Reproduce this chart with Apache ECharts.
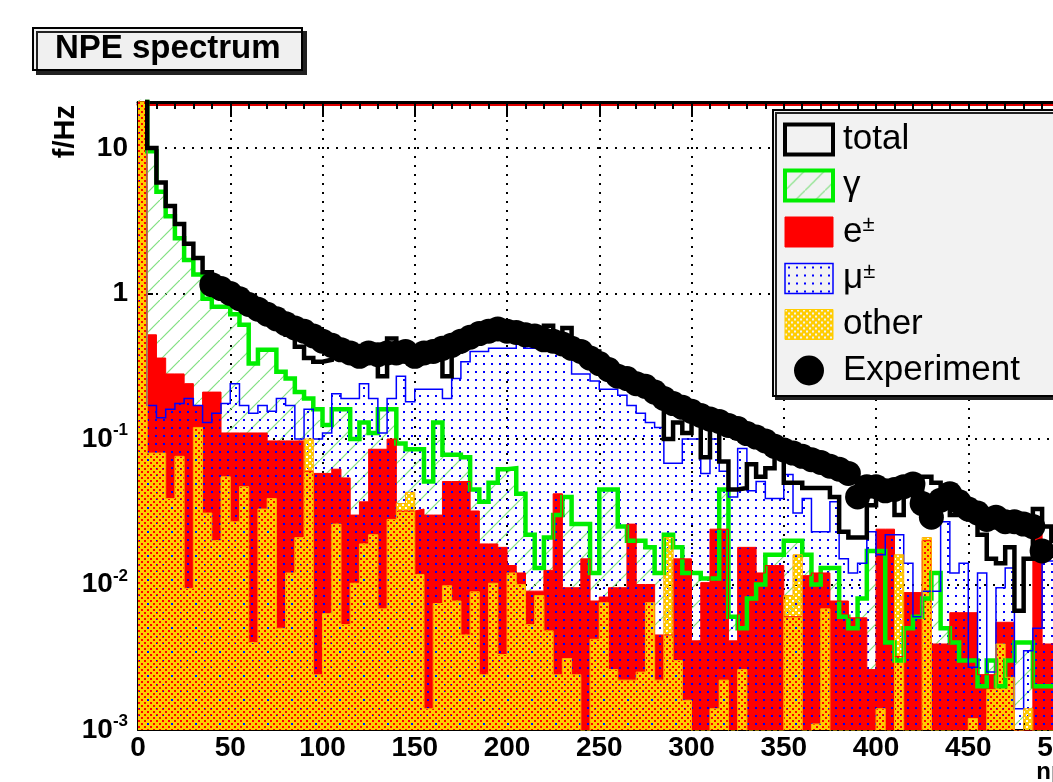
<!DOCTYPE html>
<html lang="en">
<head>
    <meta charset="UTF-8">
    <title>NPE spectrum</title>
    <style>
        html, body { margin: 0; padding: 0; background: #fff; }
        #main { width: 1053px; height: 782px; }
    </style>
    <script src="https://cdn.jsdelivr.net/npm/echarts@6/dist/echarts.min.js"></script>
</head>
<body>
<div id="main"></div>
<script type="text/javascript">
    // histogram bins: width 5 npe, starting at 0
    var binWidth = 5;
    // rates in Hz, one value per bin (0 = empty bin)
    var totalVals = [30, 10, 5.8, 4.0, 3.0, 2.2, 1.75, 1.4, 1.2, 1.0,
        0.95, 0.85, 0.75, 0.70, 0.62, 0.58, 0.52, 0.43, 0.36, 0.34,
        0.35, 0.38, 0.36, 0.42, 0.38, 0.40, 0.27, 0.49, 0.40, 0.38,
        0.37, 0.38, 0.35, 0.27, 0.40, 0.44, 0.48, 0.50, 0.55, 0.58,
        0.56, 0.55, 0.52, 0.50, 0.60, 0.47, 0.58, 0.45, 0.42, 0.40,
        0.34, 0.30, 0.28, 0.27, 0.25, 0.23, 0.22, 0.10, 0.13, 0.11,
        0.14, 0.075, 0.14, 0.07, 0.045, 0.046, 0.067, 0.055, 0.063, 0.09,
        0.05, 0.05, 0.046, 0.046, 0.046, 0.04, 0.023, 0.021, 0.021, 0.035,
        0.047, 0.040, 0.030, 0.050, 0.035, 0.055, 0.050, 0.040, 0.030, 0.032,
        0.028, 0.022, 0.015, 0.014, 0.018, 0.0066, 0.015, 0.033, 0.025, 0.02,
        0.022, 0.02];
    var gammaVals = [30, 9.5, 5.0, 3.4, 2.4, 1.7, 1.35, 0.92, 0.81, 0.81,
        0.72, 0.61, 0.33, 0.41, 0.41, 0.29, 0.26, 0.21, 0.19, 0.16,
        0.125, 0.16, 0.16, 0.10, 0.13, 0.11, 0.16, 0.16, 0.093, 0.085,
        0.085, 0.051, 0.13, 0.078, 0.078, 0.075, 0.045, 0.037, 0.05, 0.062,
        0.063, 0.042, 0.022, 0.013, 0.021, 0.03, 0.04, 0.026, 0.026, 0.012,
        0.045, 0.045, 0.025, 0.02, 0.02, 0.018, 0.012, 0.022, 0.018, 0.012,
        0.012, 0.011, 0.011, 0.045, 0.006, 0.005, 0.008, 0.01, 0.016, 0.016,
        0.02, 0.02, 0.016, 0.01, 0.013, 0.013, 0.006, 0.005, 0.008, 0.017,
        0.017, 0.004, 0.003, 0.005, 0.006, 0.008, 0.012, 0.005, 0.004, 0.003,
        0.003, 0.002, 0.003, 0.002, 0.003, 0.004, 0.004, 0.002, 0.002, 0.002,
        0.002, 0.002];
    var electronVals = [30, 0.52, 0.36, 0.28, 0.28, 0.24, 0.17, 0.21, 0.21, 0.11,
        0.11, 0.11, 0.11, 0.11, 0.097, 0.097, 0.097, 0.097, 0.06, 0.058,
        0.058, 0.062, 0.054, 0.03, 0.037, 0.085, 0.085, 0.10, 0.032, 0.032,
        0.033, 0.030, 0.030, 0.051, 0.051, 0.051, 0.032, 0.019, 0.019, 0.018,
        0.0135, 0.012, 0.009, 0.009, 0.0125, 0.042, 0.0095, 0.0095, 0.015, 0.0077,
        0.0082, 0.0095, 0.0095, 0.026, 0.010, 0.010, 0.0045, 0.0045, 0.015, 0.015,
        0.0041, 0.0103, 0.024, 0.024, 0.0041, 0.018, 0.018, 0.012, 0.0135, 0.0135,
        0.006, 0.006, 0.0115, 0.012, 0.012, 0.0077, 0.0077, 0.0059, 0.0059, 0.0026,
        0.024, 0.024, 0.0032, 0.0088, 0.0088, 0.02, 0.0039, 0.0039, 0.0064, 0.0064,
        0.0064, 0.0024, 0.0024, 0.0055, 0.0055, 0, 0, 0.029, 0.0039, 0.004,
        0.004, 0.004];
    var muonVals = [30, 0.17, 0.14, 0.16, 0.175, 0.19, 0.17, 0.13, 0.15, 0.175,
        0.24, 0.17, 0.15, 0.17, 0.155, 0.19, 0.17, 0.10, 0.16, 0.10,
        0.11, 0.205, 0.19, 0.19, 0.24, 0.19, 0.11, 0.19, 0.27, 0.18,
        0.22, 0.22, 0.22, 0.19, 0.26, 0.34, 0.40, 0.40, 0.42, 0.42,
        0.42, 0.45, 0.42, 0.45, 0.53, 0.45, 0.40, 0.28, 0.28, 0.25,
        0.22, 0.22, 0.20, 0.17, 0.15, 0.13, 0.12, 0.068, 0.068, 0.10,
        0.10, 0.058, 0.10, 0.06, 0.04, 0.086, 0.044, 0.051, 0.039, 0.039,
        0.057, 0.031, 0.039, 0.023, 0.023, 0.037, 0.015, 0.012, 0.014, 0.023,
        0.016, 0.022, 0.022, 0.014, 0.006, 0.009, 0.009, 0.027, 0.012, 0.014,
        0.0027, 0.012, 0.0025, 0.0095, 0.013, 0.0014, 0.0035, 0.005, 0.0145, 0.0145,
        0.012, 0.01];
    var otherVals = [30, 0.08, 0.08, 0.039, 0.076, 0.0094, 0.12, 0.031, 0.02, 0.055,
        0.027, 0.047, 0.004, 0.033, 0.039, 0.005, 0.012, 0.021, 0.1, 0.0024,
        0.0063, 0.026, 0.0053, 0.0102, 0.019, 0.022, 0.0068, 0.028, 0.036, 0.043,
        0.0117, 0.0014, 0.0074, 0.0098, 0.0077, 0.0045, 0.0089, 0.0024, 0.0102, 0.0033,
        0.012, 0.010, 0.0053, 0.0084, 0.0048, 0.0024, 0.0031, 0.0024, 0, 0.0042,
        0.0075, 0.0026, 0.0022, 0.0022, 0.0025, 0.0075, 0.0022, 0.021, 0.003, 0.0016,
        0, 0, 0.0014, 0.0022, 0, 0.0026, 0, 0, 0, 0,
        0.0084, 0.016, 0, 0.0011, 0.0068, 0, 0, 0, 0, 0,
        0.0014, 0, 0.016, 0, 0, 0.021, 0, 0, 0, 0,
        0.0012, 0, 0.0019, 0.0039, 0.0023, 0, 0.0014, 0, 0, 0,
        0, 0];
    // measured points, every 5 npe from 40 to 490
    var expStart = 40, expStep = 5;
    var expVals = [1.15, 1.08, 1.0, 0.92, 0.84, 0.78, 0.72, 0.67, 0.62, 0.58,
        0.55, 0.51, 0.47, 0.44, 0.41, 0.39, 0.37, 0.39, 0.38, 0.39,
        0.39, 0.40, 0.37, 0.39, 0.40, 0.42, 0.44, 0.47, 0.50, 0.53,
        0.55, 0.57, 0.55, 0.54, 0.52, 0.51, 0.48, 0.47, 0.45, 0.42,
        0.40, 0.36, 0.33, 0.30, 0.27, 0.26, 0.24, 0.23, 0.21, 0.19,
        0.175, 0.165, 0.155, 0.145, 0.137, 0.132, 0.124, 0.118, 0.109, 0.103,
        0.097, 0.089, 0.084, 0.080, 0.076, 0.072, 0.069, 0.065, 0.062, 0.058,
        0.040, 0.047, 0.047, 0.044, 0.045, 0.047, 0.049, 0.036, 0.029, 0.038,
        0.042, 0.037, 0.033, 0.031, 0.028, 0.029, 0.027, 0.027, 0.026, 0.025,
        0.017];

    var font = '"Liberation Sans", Arial, Helvetica, sans-serif';
    var logFloor = 0.0004;   // empty bins are pushed below the axis minimum

    // minor ticks of the log axis: 2..9 in every decade
    var minorLogTicks = [];
    [0.001, 0.01, 0.1, 1, 10].forEach(function (d) {
        for (var k = 2; k <= 9; k++) { if (k * d < 20.7) minorLogTicks.push(k * d); }
    });

    function makePattern(size, draw) {
        var c = document.createElement('canvas');
        c.width = size; c.height = size;
        draw(c.getContext('2d'), size);
        return { image: c, repeat: 'repeat' };
    }
    var hatchFill = makePattern(20, function (ctx, s) {
        ctx.strokeStyle = '#80e080'; ctx.lineWidth = 1.2;
        ctx.beginPath(); ctx.moveTo(-1, s + 1); ctx.lineTo(s + 1, -1); ctx.stroke();
    });
    var dotFill = makePattern(8, function (ctx) {
        ctx.fillStyle = '#0000ff'; ctx.fillRect(3, 3, 2, 2);
    });
    var otherFill = makePattern(6, function (ctx, s) {
        ctx.fillStyle = '#ffcc00'; ctx.fillRect(0, 0, s, s);
        ctx.clearRect(0, 0, 2, 2); ctx.clearRect(3, 3, 2, 2);
    });

    function histData(vals) {
        var pts = vals.map(function (v, i) { return [i * binWidth, Math.max(v, logFloor)]; });
        pts.push([vals.length * binWidth, Math.max(vals[vals.length - 1], logFloor)]);
        return pts;
    }
    function histSeries(name, vals, lineStyle, fill) {
        return {
            name: name, type: 'line', step: 'end', symbol: 'none',
            data: histData(vals),
            lineStyle: lineStyle,
            areaStyle: fill ? { color: fill, opacity: 1, origin: 'start' } : undefined,
            itemStyle: { color: lineStyle.color },
            animation: false, silent: true
        };
    }
    var expData = expVals.map(function (v, i) { return [expStart + i * expStep, v]; });

    var supRich = {
        b: { fontFamily: font, fontWeight: 'bold', fontSize: 28, lineHeight: 34, color: '#000' },
        s: { fontFamily: font, fontWeight: 'bold', fontSize: 17, lineHeight: 17, verticalAlign: 'top', color: '#000' }
    };
    var dotted = { color: '#000', width: 2, type: [2, 7] };

    var myChart = echarts.init(document.getElementById('main'));
    var option = {
        backgroundColor: '#fff',
        animation: false,
        title: {
            text: 'NPE spectrum', left: 33, top: 28,
            padding: [4, 22, 5, 22],
            backgroundColor: '#f0f0f0', borderColor: '#000', borderWidth: 2,
            shadowColor: '#222', shadowOffsetX: 4, shadowOffsetY: 4, shadowBlur: 0,
            textStyle: { fontFamily: font, fontWeight: 'bold', fontSize: 33, color: '#000' }
        },
        legend: {
            orient: 'vertical', left: 773, top: 110,
            padding: [12, 60, 8, 10],
            itemWidth: 48, itemHeight: 30, itemGap: 11,
            backgroundColor: '#f2f2f2', borderColor: '#000', borderWidth: 2,
            shadowColor: '#222', shadowOffsetX: 3, shadowOffsetY: 3, shadowBlur: 0,
            selectedMode: false,
            textStyle: {
                fontFamily: font, fontSize: 35, color: '#000', padding: [0, 0, 0, 5],
                rich: {
                    n: { fontFamily: font, fontSize: 35, lineHeight: 36, color: '#000' },
                    s: { fontFamily: font, fontSize: 22, lineHeight: 22, verticalAlign: 'top', color: '#000' }
                }
            },
            formatter: function (name) {
                if (name === 'e±') return '{n|e}{s|±}';
                if (name === 'μ±') return '{n|μ}{s|±}';
                return '{n|' + name + '}';
            },
            data: [
                { name: 'total', icon: 'rect', itemStyle: { color: 'rgba(0,0,0,0)', borderColor: '#000', borderWidth: 4 } },
                { name: 'γ', icon: 'rect', itemStyle: { color: hatchFill, borderColor: '#00ee00', borderWidth: 4 } },
                { name: 'e±', icon: 'rect', itemStyle: { color: '#ff0000', borderColor: '#ff0000', borderWidth: 1 } },
                { name: 'μ±', icon: 'rect', itemStyle: { color: dotFill, borderColor: '#0000ff', borderWidth: 1.5 } },
                { name: 'other', icon: 'rect', itemStyle: { color: otherFill, borderColor: '#ffcc00', borderWidth: 1 } },
                { name: 'Experiment', icon: 'circle', itemStyle: { color: '#000' } }
            ]
        },
        grid: { left: 138, top: 102, right: -26, bottom: 52, containLabel: false, outerBoundsMode: 'none' },
        xAxis: [{
            type: 'value', min: 0, max: 510, interval: 50, position: 'bottom',
            name: 'npe', nameLocation: 'end', nameGap: 0, nameMoveOverlap: false,
            nameTextStyle: { fontFamily: font, fontWeight: 'bold', fontSize: 24, color: '#000',
                align: 'right', verticalAlign: 'top', padding: [30, 0, 0, 0] },
            axisLine: { onZero: false, lineStyle: { color: '#000', width: 2 } },
            axisTick: { inside: true, length: 15, lineStyle: { color: '#000', width: 2 } },
            minorTick: { show: true, splitNumber: 5, length: 7, lineStyle: { color: '#000', width: 2 } },
            axisLabel: {
                margin: 4, fontFamily: font, fontWeight: 'bold', fontSize: 28, color: '#000',
                formatter: function (v) { return v % 50 === 0 ? String(v) : ''; }
            },
            splitLine: { show: true, lineStyle: dotted }
        }, {
            type: 'value', min: 0, max: 510, interval: 50, position: 'top',
            axisLine: { onZero: false, lineStyle: { color: '#000', width: 3, shadowColor: '#e00000', shadowOffsetY: 2, shadowBlur: 0 } },
            axisTick: { inside: true, length: 15, lineStyle: { color: '#000', width: 2 } },
            minorTick: { show: true, splitNumber: 5, length: 7, lineStyle: { color: '#000', width: 2 } },
            axisLabel: { show: false },
            splitLine: { show: false }
        }],
        yAxis: [{
            type: 'log', logBase: 10, min: 0.001, max: 20.7,
            name: 'f/Hz', nameLocation: 'end', nameGap: -3, nameRotate: 90,
            nameTextStyle: { fontFamily: font, fontWeight: 'bold', fontSize: 29, color: '#000',
                align: 'right', verticalAlign: 'bottom', padding: [0, 0, 58, 0] },
            axisLine: { onZero: false, lineStyle: { color: '#000', width: 2 } },
            axisTick: { inside: true, length: 15, lineStyle: { color: '#000', width: 2 } },
            axisLabel: {
                margin: 10,
                formatter: function (v) {
                    var lg = Math.log10(v), e = Math.round(lg);
                    if (Math.abs(lg - e) > 1e-6) return '';
                    if (e === 0) return '{b|1}';
                    if (e === 1) return '{b|10}';
                    return '{b|10}{s|' + e + '}';
                },
                rich: supRich
            },
            splitLine: { show: true, lineStyle: dotted }
        }, {
            type: 'log', logBase: 10, min: 0.001, max: 20.7, position: 'left',
            axisLine: { show: false, onZero: false },
            axisTick: { show: true, inside: true, length: 8, customValues: minorLogTicks,
                lineStyle: { color: '#000', width: 2 } },
            axisLabel: { show: false },
            splitLine: { show: false }
        }],
        series: [
            histSeries('γ', gammaVals, { color: '#00ee00', width: 4.5, join: 'miter' }, hatchFill),
            histSeries('e±', electronVals, { color: '#ff0000', width: 1, join: 'miter' }, '#ff0000'),
            histSeries('μ±', muonVals, { color: '#0000ff', width: 1.5, join: 'miter' }, dotFill),
            histSeries('other', otherVals, { color: '#ffaa00', width: 1, join: 'miter' }, otherFill),
            histSeries('total', totalVals, { color: '#000', width: 4.5, join: 'miter' }, null),
            {
                name: 'Experiment', type: 'scatter', data: expData,
                symbol: 'circle', symbolSize: 25,
                itemStyle: { color: '#000', opacity: 1 },
                animation: false, silent: true, z: 5
            }
        ]
    };
    myChart.setOption(option);
</script>
</body>
</html>
